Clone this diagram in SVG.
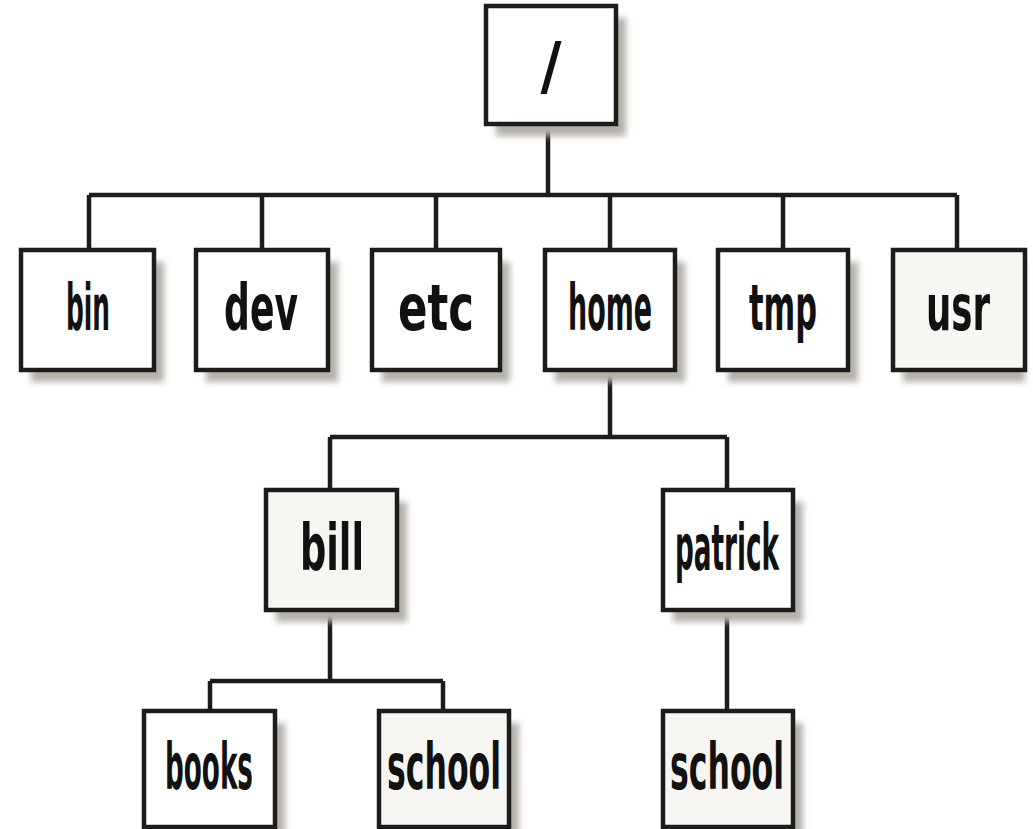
<svg xmlns="http://www.w3.org/2000/svg" width="1033" height="829" viewBox="0 0 1033 829">
<defs>
<filter id="sh" x="-20%" y="-20%" width="150%" height="150%">
<feGaussianBlur stdDeviation="3"/>
</filter>
</defs>
<style>
.shadow{fill:#b4b1a9;filter:url(#sh)}
.box{fill:#ffffff;stroke:#1c1c1c;stroke-width:4.5}
.box.alt{fill:#f7f6f3}
.lbl{font-family:"DejaVu Sans Condensed","Liberation Sans",sans-serif;font-weight:bold;font-size:64px;fill:#111;text-anchor:middle}
.conn{fill:none;stroke:#1c1c1c;stroke-width:4.5}
</style>
<rect width="1033" height="829" fill="#ffffff"/>
<g id="connectors">
<path class="conn" d="M548,124 V195 M89,195 H957 M89,195 V250 M262,195 V250 M436,195 V250 M610,195 V250 M783,195 V250 M957,195 V250"/>
<path class="conn" d="M610,370 V437 M330,437 H727 M330,437 V490 M727,437 V490"/>
<path class="conn" d="M330,610 V681 M210,681 H443 M210,681 V711 M443,681 V711"/>
<path class="conn" d="M727,610 V711"/>
</g>
<g id="root">
<rect class="shadow" x="496" y="18" width="130" height="118"/>
<rect class="box" x="486" y="6" width="130" height="118"/>
<text class="lbl" x="551" y="88" font-size="60">/</text>
</g>
<g id="bin">
<rect class="shadow" x="31" y="262" width="133" height="120"/>
<rect class="box" x="21" y="250" width="133" height="120"/>
<text class="lbl" x="88" y="330" textLength="44" lengthAdjust="spacingAndGlyphs">bin</text>
</g>
<g id="dev">
<rect class="shadow" x="206" y="262" width="132" height="120"/>
<rect class="box" x="196" y="250" width="132" height="120"/>
<text class="lbl" x="261" y="330" textLength="74" lengthAdjust="spacingAndGlyphs">dev</text>
</g>
<g id="etc">
<rect class="shadow" x="382" y="262" width="128" height="120"/>
<rect class="box" x="372" y="250" width="128" height="120"/>
<text class="lbl" x="436" y="330" textLength="76" lengthAdjust="spacingAndGlyphs">etc</text>
</g>
<g id="home">
<rect class="shadow" x="555" y="262" width="130" height="120"/>
<rect class="box" x="545" y="250" width="130" height="120"/>
<text class="lbl" x="610" y="330" textLength="84" lengthAdjust="spacingAndGlyphs">home</text>
</g>
<g id="tmp">
<rect class="shadow" x="728" y="262" width="130" height="120"/>
<rect class="box" x="718" y="250" width="130" height="120"/>
<text class="lbl" x="783" y="330" textLength="68" lengthAdjust="spacingAndGlyphs">tmp</text>
</g>
<g id="usr">
<rect class="shadow" x="903" y="262" width="122" height="120"/>
<rect class="box alt" x="893" y="250" width="132" height="120"/>
<text class="lbl" x="958" y="330" textLength="64" lengthAdjust="spacingAndGlyphs">usr</text>
</g>
<g id="bill">
<rect class="shadow" x="276" y="502" width="131" height="120"/>
<rect class="box alt" x="266" y="490" width="131" height="120"/>
<text class="lbl" x="332" y="570" textLength="64" lengthAdjust="spacingAndGlyphs">bill</text>
</g>
<g id="patrick">
<rect class="shadow" x="673" y="502" width="130" height="120"/>
<rect class="box" x="663" y="490" width="130" height="120"/>
<text class="lbl" x="727" y="570" textLength="104" lengthAdjust="spacingAndGlyphs">patrick</text>
</g>
<g id="books">
<rect class="shadow" x="154" y="723" width="131" height="120"/>
<rect class="box" x="144" y="711" width="131" height="116"/>
<text class="lbl" x="209" y="789" textLength="88" lengthAdjust="spacingAndGlyphs">books</text>
</g>
<g id="school-bill">
<rect class="shadow" x="389" y="723" width="130" height="120"/>
<rect class="box alt" x="379" y="711" width="130" height="116"/>
<text class="lbl" x="444" y="789" textLength="114" lengthAdjust="spacingAndGlyphs">school</text>
</g>
<g id="school-patrick">
<rect class="shadow" x="673" y="723" width="130" height="120"/>
<rect class="box alt" x="663" y="711" width="130" height="116"/>
<text class="lbl" x="727" y="789" textLength="114" lengthAdjust="spacingAndGlyphs">school</text>
</g>
</svg>
